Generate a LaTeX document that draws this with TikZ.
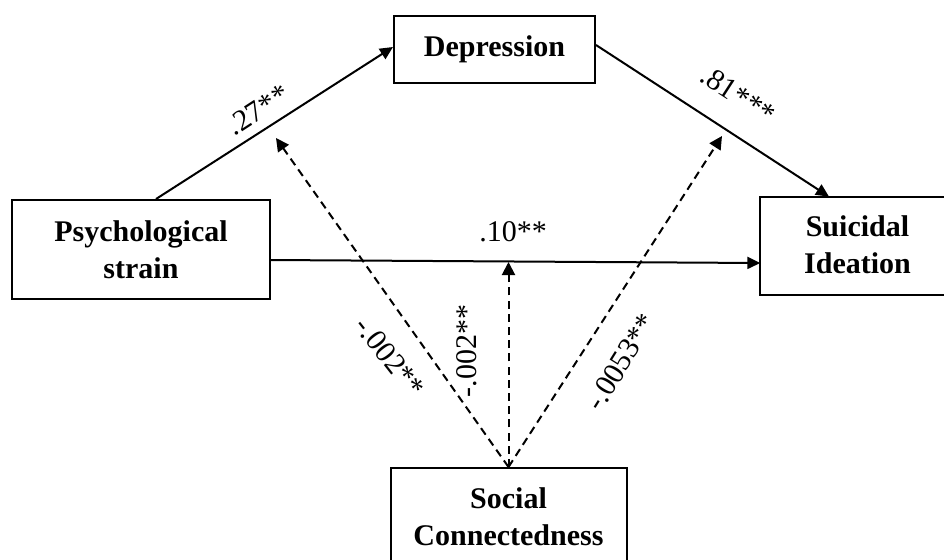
\documentclass[tikz,border=0pt]{standalone}
\usepackage{fontspec}
\setmainfont{Liberation Serif}
\usetikzlibrary{arrows.meta}
\begin{document}
\begin{tikzpicture}[x=0.5pt,y=-0.5pt,
 box/.style={draw,line width=1pt,align=center,font=\fontsize{15}{18.5}\selectfont\bfseries,inner sep=0pt},
 boxtext/.style={align=center,font=\fontsize{15}{18.5}\selectfont\bfseries,inner sep=0pt},
 solidarrow/.style={line width=1pt,-{Triangle[length=6.5pt,width=6pt]}},
 modarrow/.style={line width=1pt,dash pattern=on 4pt off 2.6pt,-{Triangle[length=6.5pt,width=6.5pt]}},
 lab/.style={font=\fontsize{15}{18}\selectfont,inner sep=0pt}]
\useasboundingbox (0,0) rectangle (944,559);
\node[box,minimum width=100.5pt,minimum height=33.5pt] (dep) at (494.5,49.5) {Depression};
\node[box,minimum width=129pt,minimum height=49.5pt] (psy) at (141,249.5) {Psychological\\strain};
\node[minimum width=120pt,minimum height=49pt,inner sep=0pt] (suibox) at (880.7,246) {};
\coordinate (edge) at (950,0);
\draw[line width=1pt] (suibox.north west -| edge) -- (suibox.north west) -- (suibox.south west) -- (suibox.south west -| edge);
\node[boxtext] (sui) at (857.5,245) {Suicidal\\Ideation};
\node[box,minimum width=118pt,minimum height=49pt] (soc) at (508.5,517) {Social\\Connectedness};
\coordinate (t1) at (276,138);
\coordinate (t2) at (508.5,262);
\coordinate (t3) at (722,136);
\draw[solidarrow] ([xshift=7.5pt]psy.north) -- ([yshift=1.25pt]dep.west);
\draw[solidarrow] ([yshift=2.25pt]dep.east) -- ([xshift=-25.85pt]suibox.north);
\draw[solidarrow] ([yshift=-5.25pt]psy.east) -- ([yshift=-8.5pt]suibox.west);
\draw[modarrow] (soc.north) -- (t1);
\draw[modarrow] (soc.north) -- (t2);
\draw[modarrow] (soc.north) -- (t3);
\node[lab,rotate=33] (l1) at (258,110) {.27**};
\node[lab,rotate=-33] (l2) at (738,95) {.81***};
\node[lab] (l3) at (513,232) {.10**};
\node[lab,rotate=-52] (l4) at (390,357) {-.002**};
\node[lab,rotate=90] (l5) at (467,351) {-.002**};
\node[lab,rotate=58] (l6) at (621,362) {-.0053**};
\end{tikzpicture}
\end{document}
